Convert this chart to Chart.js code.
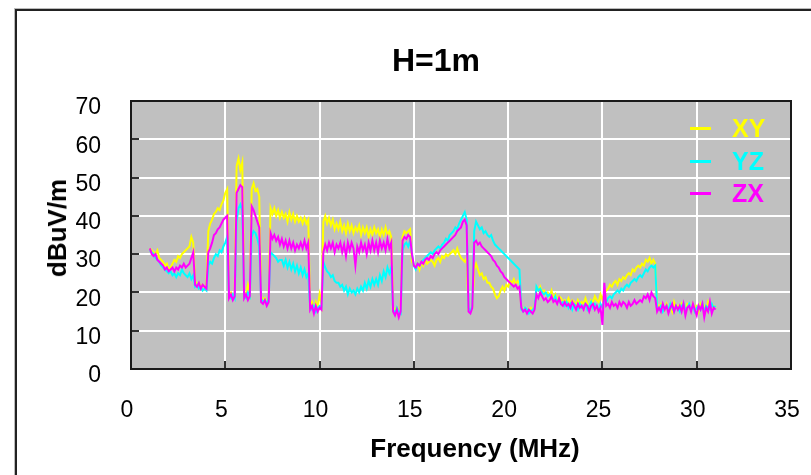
<!DOCTYPE html>
<html>
<head>
<meta charset="utf-8">
<script src="https://cdn.jsdelivr.net/npm/chart.js@4.4.0/dist/chart.umd.min.js"></script>
<style>
html,body{margin:0;padding:0;background:#fff;overflow:hidden;width:811px;height:475px;}
#wrap{position:relative;width:811px;height:475px;overflow:hidden;}
#frame{position:absolute;left:15px;top:9px;width:900px;height:600px;border-left:2px solid #222;border-top:2px solid #222;box-shadow:-1px -1px 0 #bbb;}
canvas{position:absolute;left:0;top:0;}
.t{position:absolute;font-family:"Liberation Sans",Arial,sans-serif;font-weight:bold;white-space:nowrap;color:#000;line-height:1;transform:translate(-50%,-50%);}
.lg{position:absolute;font-family:"Liberation Sans",Arial,sans-serif;font-weight:bold;font-size:25px;line-height:1;white-space:nowrap;transform:translateY(-50%);}
.ll{position:absolute;width:21px;height:3px;}
</style>
</head>
<body>
<div id="wrap">
  <div id="frame"></div>
  <canvas id="c" width="811" height="475"></canvas>
  <div class="t" style="left:436px;top:60px;font-size:32px;">H=1m</div>
  <div class="t" style="left:57px;top:228px;font-size:26px;transform:translate(-50%,-50%) rotate(-90deg);">dBuV/m</div>
  <div class="t" style="left:475px;top:448px;font-size:26px;">Frequency (MHz)</div>
  <div id="legend"></div>
</div>
<script>
// Sweep: 1.0 MHz to 31.0 MHz, 0.1 MHz step
const freqStart = 1.0, freqStep = 0.1, nPoints = 301;
const freqMHz = Array.from({length: nPoints}, (_, i) => +(freqStart + i * freqStep).toFixed(1));

const seriesNames = ["XY", "YZ", "ZX"];
const seriesColors = ["#FFFF00", "#00FFFF", "#FF00FF"];

const xyValues = [
31.5,31,30.5,30,31,29,28.5,28,27,27.5,
26,26.5,27.5,28.5,28,29.5,29,30,30.5,31,
31.5,32,34.5,33,23,22,22.5,21.5,22,21,
22,36,38,39,40.5,41,42,41.5,43,44,
46,47,19.5,20,19,20,53,55,52,54,
20,19.5,22,20,47,48.5,46.5,47,45,19,
18,18.5,17.5,18.5,42,40.5,42,40,41.5,39.5,
41,39.5,40.5,38.5,41,39,40.5,38.5,40,38.5,
39.5,38,39.5,38,39,16.5,17.5,15.5,17.5,16,
19.5,17,38.5,40,38,39.5,37.5,39,36.5,38,
36.5,38.5,36,37.5,35.5,38,36,37.5,35.5,37,
36,37.5,35,37,35.5,37,34.5,36.5,35,37,
35.5,36.5,34.5,36.5,35,37,35,36,34.5,16,
15.5,16,15,16.5,34.5,36,35.5,36,36.5,28,
27,26.5,27.5,26,28,27,28.5,27.5,28,28.5,
28,27,28.5,29,28,29.5,29,30,29.5,30,
30.5,31,30,31.5,30,29,28.5,28,29,15.5,
15,16,26,27.5,26,24.5,25,23.5,24,22.5,
22.5,21.5,21,19.5,18.5,19,20.5,21.5,20.5,22,
21.5,23,22.5,23.5,22,23,22.5,16,15.5,16,
15,15.5,16,15,16.5,21,20.5,21.5,20,20.5,
19.5,20,19,20.5,18.5,19.5,18,19,18.5,17.5,
18,17.5,18.5,17,18,17.5,16.5,18,17,17.5,
17,18.5,17,16.5,18,17.5,19,18,17.5,19.5,
18,20,20.5,21,22,21.5,22.5,23,22,23.5,
23,24,23.5,24.5,25,24.5,26,25.5,26.5,27,
26.5,27.5,27,28.5,28,29,27.5,28.5,27.5,17,
16,17,16.5,15.5,17,16,16.5,15,17.5,16,
16.5,15.5,17,16,15,17,16.5,15.5,17,16,
16.5,15,17,16,16.5,15.5,17.5,16,15.5,16.5,
16
];

const yzValues = [
31,30.5,30,29,28.5,28,27,26.5,26,25.5,
25,25.5,24.5,25,24,25,24.5,26,25,24.5,
24,25,23.5,24.5,21.5,22,21,21.5,20.5,21,
20.5,27,28,27.5,29,30,29.5,31,30.5,32,
33,34.5,19,18.5,19.5,18.5,38.5,42,43,41.5,
19,18.5,20,19,34.5,36,35.5,34,32,18.5,
17.5,18,17,18.5,30.5,30,29.5,29,28,28.5,
28.5,27,28.5,26.5,28,26,27.5,25.5,27,25,
26.5,24.5,26,24,25,16,15.5,16.5,15,16,
16.5,16,28,26.5,25.5,25,24,24.5,23,22.5,
22.5,21.5,22,20.5,21.5,19.5,21,20,20.5,19.5,
21,20,21.5,20.5,22.5,21,23,21.5,23.5,22,
23.5,22,24.5,23,25.5,24,26.5,25,26.5,15.5,
14.5,16,15,14.5,31,32.5,33,32,33.5,30,
27,26,27.5,27,28,28.5,29,29.5,30,30.5,
30,31,31.5,32,31.5,32.5,33,34,33.5,35,
35.5,36,37,36.5,38,39,40,41,39,16,
15,16.5,36,38.5,37.5,36.5,37,35.5,36,35,
34.5,35,33.5,32.5,32,31.5,31,30.5,30,29.5,
29,28.5,28,27.5,27,26.5,26,15.5,15,16,
15.5,14.5,15,15.5,16,21.5,20.5,21,20,19.5,
20,19,19.5,18.5,18,19,17.5,18,17,17.5,
16.5,17.5,16,17,15.5,17,16.5,15.5,17,16,
16.5,17,15.5,16.5,17.5,16,17,16.5,15.5,17,
16,18,17.5,18.5,19,18.5,19.5,20,20.5,20,
21,20.5,21.5,22,21.5,22.5,23,23.5,23,24,
24.5,24,25,26,25.5,26.5,27,26.5,27,16,
15.5,16.5,15,16,16.5,15.5,17,16,15,16.5,
16,15,16.5,17,15.5,16,17,15.5,16.5,15,
16,16.5,15.5,17,15,16.5,16,15.5,17,16,
16.5
];

const zxValues = [
31.5,30,29.5,30,28.5,28,27.5,27,26,26.5,
25.5,26,26.5,25.5,26.5,26,27,26.5,27.5,26.5,
27,27.5,29,30.5,22,21.5,22.5,21,22,21.5,
21,30.5,31.5,33,35,35.5,36.5,37,38,39,
39.5,40,18.5,19.5,18,19,46,47,48,47.5,
18.5,19.5,18,19,42.5,41.5,40,38.5,37,17.5,
17,18,16.5,17.5,35.5,34,35,33.5,34.5,32.5,
34,32,33.5,31.5,33.5,31.5,33,31,32.5,31.5,
33,31.5,33.5,31.5,33,15.5,16.5,14.5,16.5,15,
16,15.5,30.5,32.5,31,33,31.5,33,30.5,32.5,
31.5,33,30.5,32.5,29.5,33,31,33,31.5,27,
32,30.5,33,31,32.5,30,33,31,33.5,31,
33,30.5,33.5,31.5,33,31,34,31.5,33,15,
14,15.5,13.5,15,33.5,34.5,34,35,34.5,30,
27,26.5,27.5,27,28,27.5,28.5,29,28.5,29.5,
29,30,30.5,30,31,31.5,32,32.5,33,33.5,
34,34.5,35,36,36.5,37,38.5,39,37.5,15,
14.5,16,33,33.5,32.5,33,32,31.5,31,30.5,
30,29.5,28.5,28,27,26.5,25.5,25,24,23.5,
23,22.5,22,21.5,22,21,21.5,16,15,15.5,
14.5,15.5,15,14.5,15.5,19.5,18.5,20,19,18,
18.5,17.5,18,19,17.5,18,17,18.5,17,16.5,
17.5,16.5,17,16,17.5,16.5,15.5,17,16,16.5,
15.5,17,16.5,15,16.5,17,15.5,16.5,15,16,
11.5,22.5,16.5,17,16,17.5,16.5,17,16,17.5,
16.5,17.5,17,16,17.5,16.5,17,18,17,17.5,
18,17.5,19,18.5,19.5,18,20,19,18.5,15,
16,15,17,15.5,16.5,14.5,16,17,15,16.5,
15.5,16.5,15,17,14,16,16.5,15,17,15.5,
14,16.5,15.5,17,13.5,16,15,17.5,14.5,16,
15.5
];

const xTickStep = 5, yTickStep = 10;

// HTML legend
const legendTops = [128, 161, 193];
const legendEl = document.getElementById('legend');
seriesNames.forEach((name, i) => {
  const ln = document.createElement('div');
  ln.className = 'll';
  ln.style.left = '690px';
  ln.style.top = (legendTops[i] - 1.5) + 'px';
  ln.style.background = seriesColors[i];
  legendEl.appendChild(ln);
  const tx = document.createElement('div');
  tx.className = 'lg';
  tx.style.left = '732px';
  tx.style.top = legendTops[i] + 'px';
  tx.style.color = seriesColors[i];
  tx.textContent = name;
  legendEl.appendChild(tx);
});

const plotDeco = {
  id: 'plotDeco',
  beforeDraw(chart) {
    const {ctx, chartArea: a} = chart;
    ctx.save();
    ctx.fillStyle = '#C0C0C0';
    ctx.fillRect(a.left, a.top, a.right - a.left, a.bottom - a.top);
    ctx.restore();
  },
  afterDraw(chart) {
    const {ctx, chartArea: a, scales} = chart;
    ctx.save();
    ctx.strokeStyle = '#333';
    ctx.lineWidth = 2;
    scales.y.ticks.forEach(t => {
      const y = Math.round(scales.y.getPixelForValue(t.value));
      ctx.beginPath(); ctx.moveTo(a.left, y); ctx.lineTo(a.left + 8, y); ctx.stroke();
    });
    scales.x.ticks.forEach(t => {
      const x = Math.round(scales.x.getPixelForValue(t.value));
      ctx.beginPath(); ctx.moveTo(x, a.bottom); ctx.lineTo(x, a.bottom - 8); ctx.stroke();
    });
    ctx.strokeStyle = '#1a1a1a';
    ctx.lineWidth = 2;
    ctx.strokeRect(a.left, a.top, a.right - a.left, a.bottom - a.top);
    ctx.restore();
  }
};

const valueSets = [xyValues, yzValues, zxValues];
const drawOrder = [3, 2, 1];
const datasets = seriesNames.map((name, i) => ({
  label: name,
  data: freqMHz.map((f, k) => ({x: f, y: valueSets[i][k]})),
  borderColor: seriesColors[i],
  backgroundColor: seriesColors[i],
  borderWidth: 2,
  pointRadius: 0,
  tension: 0,
  fill: false,
  order: drawOrder[i]
}));

const tickFont = {family: '"Liberation Sans", Arial, sans-serif', size: 23, lineHeight: 1.2};

new Chart(document.getElementById('c'), {
  type: 'line',
  data: {datasets},
  plugins: [plotDeco],
  options: {
    responsive: false,
    animation: false,
    devicePixelRatio: 1,
    layout: {padding: {left: 0, top: 101, right: 20, bottom: 0}},
    plugins: {legend: {display: false}, title: {display: false}, tooltip: {enabled: false}},
    scales: {
      x: {
        type: 'linear', min: 0, max: 35,
        afterFit(s) { s.height = 106; s.paddingLeft = 13; s.paddingRight = 13; },
        grid: {color: '#FFFFFF', lineWidth: 2, drawTicks: false},
        border: {display: false},
        ticks: {stepSize: xTickStep, padding: 28, labelOffset: -4, color: '#000', font: tickFont, maxRotation: 0, autoSkip: false}
      },
      y: {
        type: 'linear', min: 0, max: 70,
        afterFit(s) { s.width = 131; s.paddingTop = 12; s.paddingBottom = 12; },
        grid: {color: '#FFFFFF', lineWidth: 2, drawTicks: false},
        border: {display: false},
        ticks: {stepSize: yTickStep, padding: 30, labelOffset: 7, color: '#000', font: tickFont}
      }
    }
  }
});
</script>
</body>
</html>
